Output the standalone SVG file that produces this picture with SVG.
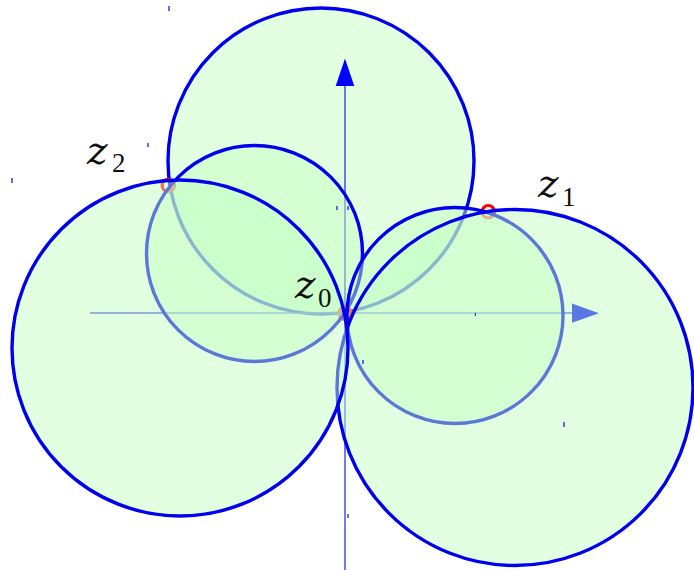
<svg xmlns="http://www.w3.org/2000/svg" width="694" height="570" viewBox="0 0 694 570">
<style>
.c{fill:rgb(193,255,193);fill-opacity:0.47;stroke:#0000ee;stroke-width:3.4}
.ax{stroke:#3344ee;stroke-width:1.4;fill:none}
.ah{fill:#0000ff;stroke:none}
.pt{fill:none;stroke:#ff0000;stroke-width:3.2}
.z{font-family:"DejaVu Serif",serif;font-style:italic;font-size:39px;fill:#111}
.s{font-family:"Liberation Serif",serif;font-size:27px;fill:#111}
.tk{fill:#2233ee}
</style>
<rect width="694" height="570" fill="#fff"/>
<g id="circle-top"><circle class="c" cx="321" cy="161" r="153"/></g>
<g id="axes">
<line class="ax" x1="90" y1="313" x2="573" y2="313"/>
<polygon class="ah" points="572,303.5 599,313.3 572,322.7"/>
<line class="ax" x1="345" y1="86" x2="345" y2="570"/>
<polygon class="ah" points="335.7,86 345,58.5 354.3,86"/>
</g>
<g id="points">
<circle class="pt" cx="345" cy="313.3" r="6.2"/>
<circle class="pt" cx="488.3" cy="211.7" r="6.2"/>
<circle class="pt" cx="168.3" cy="185.5" r="6.2"/>
</g>
<g id="circle-small-left"><circle class="c" cx="254.5" cy="253.5" r="108"/></g>
<g id="circle-small-right"><circle class="c" cx="455" cy="315.5" r="108"/></g>
<g id="circle-right"><circle class="c" cx="515" cy="387.5" r="178"/></g>
<g id="circle-left"><circle class="c" cx="180" cy="348" r="168"/></g>
<g id="labels">
<text class="z" x="87" y="164">z</text><text class="s" x="112" y="172">2</text>
<text class="z" x="538" y="197">z</text><text class="s" x="562" y="206">1</text>
<text class="z" x="295" y="298">z</text><text class="s" x="318" y="307">0</text>
</g>
<g id="ticks">
<rect class="tk" x="168.3" y="6" width="1.4" height="5"/>
<rect class="tk" x="11.3" y="178" width="1.4" height="5"/>
<rect class="tk" x="147.3" y="143" width="1.4" height="4"/>
<rect class="tk" x="336.3" y="206" width="1.4" height="4"/>
<rect class="tk" x="347.3" y="206" width="1.4" height="4"/>
<rect class="tk" x="474.8" y="313" width="1.2" height="3"/>
<rect class="tk" x="362.3" y="360" width="1.4" height="4"/>
<rect class="tk" x="347.3" y="514" width="1.4" height="4"/>
<rect class="tk" x="563.3" y="422" width="1.4" height="5"/>
</g>
</svg>
